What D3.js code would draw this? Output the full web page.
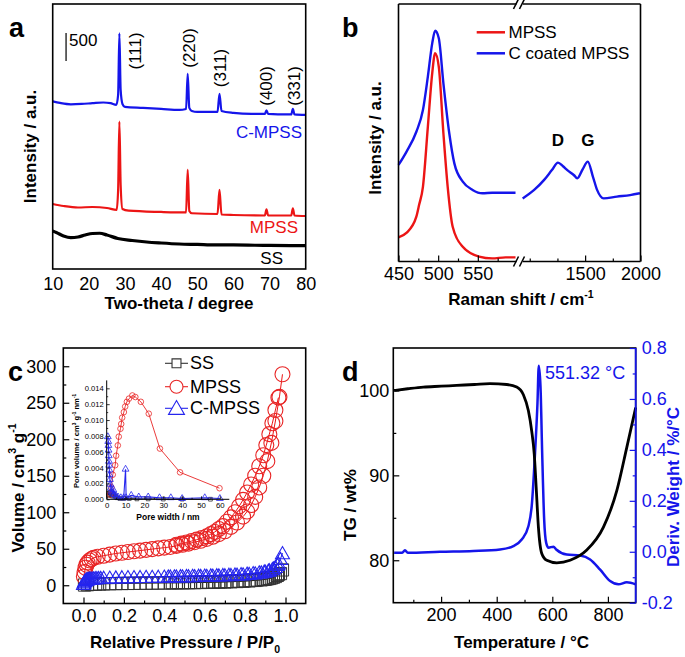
<!DOCTYPE html>
<html><head><meta charset="utf-8">
<script src="https://cdn.jsdelivr.net/npm/d3@7"></script>
<style>body{margin:0;background:#fff}svg{display:block}</style>
</head><body>
<svg id="chart" width="685" height="657"></svg>
<script>
// ---------------- DATA ----------------
// (a) XRD: [2theta, counts]
const xrdTicks = [10,20,30,40,50,60,70,80];
const xrdCMPSS = [[10,2991],[12,2964],[15,2940],[18,2946],[21,2960],[24,2972],[26,2960],[27.6,2929],[28.1,3107],[28.45,4205],[28.8,3196],[29.3,2946],[30,2893],[35,2875],[40,2857],[45,2839],[46.9,2857],[47.35,3482],[47.8,2875],[48.5,2821],[50,2804],[55.6,2804],[56.15,3125],[56.7,2821],[60,2786],[65,2768],[68.7,2768],[69.15,2830],[69.6,2768],[75,2759],[76,2759],[76.45,2857],[76.9,2759],[80,2750]];
const xrdMPSS = [[10,1161],[13,1125],[17,1098],[21,1107],[25,1089],[27.7,1054],[28.1,1411],[28.45,2630],[28.8,1500],[29.3,1071],[31,1041],[40,1018],[46.9,1009],[47.35,1768],[47.8,1036],[48.5,995],[55.6,982],[56.15,1411],[56.7,973],[60,964],[68.7,955],[69.15,1066],[69.6,955],[76,955],[76.45,1084],[76.9,955],[80,946]];
const xrdSS = [[10,679],[11,652],[13,589],[15,559],[17,571],[19,607],[21,634],[23,638],[25,607],[28,545],[32,509],[36,482],[40,464],[45,446],[50,438],[55,429],[60,429],[70,420],[80,416]];
const hklLabels = ["(111)","(220)","(311)","(400)","(331)"];
const hklTheta = [32.8,47.85,56.3,69.2,77.0];
const hklCounts = [3893,3946,3589,3268,3268];
const scaleBarCounts = 500;

// (b) Raman: [shift, intensity a.u.]
const ramanTicksLeft = [450,500,550];
const ramanTicksRight = [1500,2000];
const ramanMPSS = [[450,9.4],[460,11.1],[472.5,17.4],[476,22],[480.8,29.0],[487,52.3],[492.5,73.1],[496.2,80.9],[500.8,75.6],[506.6,49.8],[512,29.0],[518.3,13.5],[531,5.7],[551.6,1.9],[568,1.2],[585,1.6],[597.5,1.6]];
const ramanCMPSSLow = [[450,37.5],[460,42.6],[472.5,50.4],[480.8,58.8],[487,71.8],[492.5,84.7],[496.2,89.6],[500.8,86.7],[506.6,69.2],[514,49.8],[520.4,38.1],[531,31.0],[543.4,27.8],[555.8,26.5],[568,26.7],[585,26.7],[597.5,26.7]];
const ramanCMPSSHigh = [[936,24.5],[1040,27.8],[1130,31.7],[1200,35.5],[1255,38.4],[1300,37],[1339,35.5],[1400,33.5],[1429,32.3],[1480,36],[1524,38.8],[1570,33],[1608,27.8],[1667,24.5],[1787,25.2],[1906,25.8],[1995,26.5]];

// (c) N2 isotherms: [P/P0, V]
const isoTicks = [0.0,0.2,0.4,0.6,0.8,1.0];
const volTicks = [0,50,100,150,200,250,300];
const ssAds = [[0.005,0.3],[0.02,0.8],[0.04,1.2],[0.06,1.5],[0.08,1.7],[0.1,1.9],[0.13,2.1],[0.16,2.3],[0.19,2.4],[0.22,2.5],[0.25,2.6],[0.28,2.7],[0.31,2.8],[0.34,2.9],[0.37,3.0],[0.4,3.1],[0.43,3.2],[0.46,3.3],[0.49,3.4],[0.52,3.5],[0.55,3.6],[0.58,3.8],[0.61,3.9],[0.64,4.1],[0.67,4.3],[0.7,4.5],[0.73,4.8],[0.76,5.1],[0.79,5.5],[0.82,6],[0.85,6.6],[0.88,7.4],[0.9,8.2],[0.92,9.3],[0.94,11],[0.96,13.5],[0.975,16],[0.985,21]];
const ssDes = [[0.965,15],[0.95,12],[0.93,10],[0.91,8.8],[0.89,8],[0.86,7.2],[0.83,6.6],[0.8,6.1],[0.77,5.7],[0.74,5.3],[0.71,5],[0.68,4.7],[0.65,4.5],[0.62,4.3],[0.59,4.1],[0.56,3.9],[0.53,3.8],[0.5,3.7],[0.47,3.6],[0.44,3.5]];
const mpssAds = [[0.002,12],[0.005,18],[0.01,24],[0.015,28],[0.02,31],[0.03,34],[0.04,36],[0.05,37.5],[0.07,39],[0.1,40.5],[0.13,42],[0.16,43.5],[0.19,44.5],[0.22,45.5],[0.25,46.5],[0.28,47.5],[0.31,48.5],[0.34,49.5],[0.37,50.5],[0.4,51.5],[0.43,52.5],[0.46,54],[0.49,55.5],[0.52,57],[0.55,59],[0.58,61],[0.61,63.5],[0.64,66.5],[0.67,70],[0.7,74],[0.73,80],[0.76,86],[0.79,94],[0.81,101],[0.83,110],[0.85,121],[0.87,134],[0.89,150],[0.91,170],[0.93,195],[0.95,225],[0.97,258],[0.985,289]];
const mpssDes = [[0.965,257],[0.95,240],[0.935,222],[0.92,207],[0.905,192],[0.89,178],[0.87,163],[0.85,150],[0.83,138],[0.81,127],[0.79,117],[0.77,108],[0.75,100],[0.73,93],[0.71,87],[0.69,81],[0.67,77],[0.65,73],[0.63,70],[0.61,67],[0.585,64.5],[0.56,62.5],[0.535,60.5],[0.51,58.5],[0.485,57],[0.46,55.5]];
const cmpssAds = [[0.0,2],[0.003,4],[0.006,5.5],[0.009,6.5],[0.012,7.2],[0.016,7.8],[0.02,8.2],[0.025,8.6],[0.03,8.9],[0.036,9.1],[0.042,9.3],[0.05,9.5],[0.058,9.7],[0.066,9.8],[0.075,9.9],[0.085,10],[0.1,10.2],[0.13,10.5],[0.16,10.7],[0.19,10.9],[0.22,11.1],[0.25,11.2],[0.28,11.3],[0.31,11.4],[0.34,11.5],[0.37,11.6],[0.4,11.8],[0.43,11.9],[0.46,12],[0.49,12.2],[0.52,12.3],[0.55,12.5],[0.58,12.7],[0.61,12.9],[0.64,13.1],[0.67,13.4],[0.7,13.7],[0.73,14],[0.76,14.4],[0.79,14.9],[0.82,15.5],[0.85,16.3],[0.88,17.5],[0.9,18.7],[0.92,20.5],[0.94,23],[0.96,28],[0.975,36],[0.985,44]];
const cmpssDes = [[0.965,30],[0.95,25],[0.935,22],[0.915,20],[0.895,18.8],[0.87,17.6],[0.84,16.6],[0.81,15.8],[0.78,15.2],[0.75,14.7],[0.72,14.3],[0.69,14],[0.66,13.7],[0.63,13.4],[0.6,13.2],[0.57,13],[0.54,12.8],[0.51,12.6],[0.48,12.4],[0.45,12.2],[0.42,12]];
// (c) inset pore size distribution: [nm, cm3 g-1 nm-1]
const poreXTicks = [0,10,20,30,40,50,60];
const poreYTicks = [0,0.002,0.004,0.006,0.008,0.010,0.012,0.014];
const poreSS = [[0.9,0.0005],[1.2,0.0008],[1.6,0.0006],[2.0,0.0009],[2.5,0.0005],[3.0,0.0004],[3.8,0.0006],[4.6,0.0004],[5.5,0.0002],[7,0.0001],[9,0.0001],[12,0.0001],[16,0.00005],[22,0.00005],[30,0.00003],[40,0.00002],[55,0.00001]];
const poreMPSS = [[1.8,0.0006],[2.5,0.0015],[3.2,0.0031],[4.5,0.0043],[5.0,0.0055],[5.9,0.0068],[6.4,0.0079],[7.3,0.0089],[7.7,0.0095],[8.2,0.0103],[9.1,0.0110],[9.8,0.0117],[10.7,0.0123],[11.8,0.0127],[13.6,0.0131],[15.2,0.0129],[18.1,0.0123],[22.3,0.0108],[28.2,0.0064],[38.9,0.0034],[59.8,0.0014]];
const poreCMPSS = [[0.6,0.0079],[0.8,0.0073],[0.9,0.0068],[1.0,0.0062],[1.1,0.0055],[1.2,0.0048],[1.3,0.0043],[1.4,0.0037],[1.5,0.0031],[1.7,0.0025],[1.9,0.0019],[2.2,0.0014],[2.6,0.001],[3.0,0.0008],[3.5,0.0012],[4.0,0.0006],[5.0,0.0004],[6.0,0.0003],[7.5,0.0002],[9.0,0.0002],[10.0,0.0038],[10.3,0.0002],[13,0.0005],[17,0.0003],[22,0.0003],[28,0.0002],[34,0.0002],[40,0.0001],[52,0.0002],[60,0.0001]];

// (d) TGA: [T, wt%] and DTG: [T, %/°C]
const tempTicks = [200,400,600,800];
const tgTicks = [80,90,100];
const dtgTicks = [-0.2,0.0,0.2,0.4,0.6,0.8];
const tgData = [[31,100.0],[80,100.2],[136,100.4],[200,100.5],[256,100.6],[320,100.7],[376,100.8],[436,100.7],[472,100.4],[496,99.5],[514,97.6],[526,95.2],[535,92.5],[542,88.6],[550,83.9],[562,80.8],[580,80.0],[616,79.7],[664,80.0],[724,81.2],[784,83.9],[832,88.2],[868,93.3],[900,98.0]];
const dtgData = [[31,-0.004],[60,-0.004],[70,0.006],[80,-0.004],[196,0.0],[316,0.003],[412,0.009],[460,0.022],[490,0.048],[514,0.10],[526,0.18],[538,0.39],[546.7,0.585],[551.3,0.73],[557.5,0.65],[563.5,0.39],[570.7,0.127],[578,0.035],[586.4,0.016],[604,0.02],[614,0.009],[652,-0.011],[700,-0.015],[736,-0.03],[772,-0.07],[808,-0.115],[838,-0.128],[868,-0.12],[900,-0.128]];
const dtgPeakLabel = "551.32 °C";

// ---------------- DRAW ----------------
const F = '"Liberation Sans", Arial, Helvetica, sans-serif';
const BLUE = '#1515ea', RED = '#ec1515', BLACK = '#000';
const TICKFS = 17, TITLEFS = 17;
const svg = d3.select('#chart');

function text(g, x, y, s, size, o = {}) {
  const t = g.append('text').attr('x', x).attr('y', y).attr('font-size', size)
    .attr('font-family', F).attr('fill', o.fill || '#000')
    .attr('font-weight', o.bold ? 'bold' : 'normal')
    .attr('text-anchor', o.anchor || 'start');
  if (o.rotate) t.attr('transform', `rotate(-90,${x},${y})`);
  if (o.baseline) t.attr('dominant-baseline', o.baseline);
  if (Array.isArray(s)) {
    let shift = 0;
    s.forEach(([str, k]) => {
      const target = k === 'sup' ? -0.42 * size : k === 'sub' ? 0.28 * size : 0;
      const ts = t.append('tspan').attr('dy', target - shift).text(str);
      if (k) ts.attr('font-size', size * 0.62);
      shift = target;
    });
  } else t.text(s);
  return t;
}

function axis(g, orient, scale, pos, major, minor, o = {}) {
  const A = {bottom: d3.axisBottom, left: d3.axisLeft, right: d3.axisRight, top: d3.axisTop}[orient];
  const tr = (orient === 'bottom' || orient === 'top') ? `translate(0,${pos})` : `translate(${pos},0)`;
  const color = o.color || '#000';
  if (minor && minor.length) {
    const m = g.append('g').attr('transform', tr)
      .call(A(scale).tickValues(minor).tickSize(-(o.minorLen ?? 3)).tickFormat(''));
    m.select('.domain').remove();
    m.selectAll('line').attr('stroke', color).attr('stroke-width', o.tw || 1.2);
  }
  const a = g.append('g').attr('transform', tr)
    .call(A(scale).tickValues(major).tickSize(-(o.majorLen ?? 6)).tickPadding(o.pad ?? 6)
      .tickFormat(o.fmt || (d => d)));
  a.select('.domain').remove();
  a.selectAll('line').attr('stroke', color).attr('stroke-width', o.tw || 1.2);
  a.selectAll('text').attr('font-family', F).attr('font-size', o.fs || TICKFS).attr('fill', color);
  return a;
}

function frame(g, x0, y0, x1, y1) {
  g.append('rect').attr('x', x0).attr('y', y0).attr('width', x1 - x0).attr('height', y1 - y0)
    .attr('fill', 'none').attr('stroke', '#000').attr('stroke-width', 1.6);
}

// ===== Panel a =====
{
  const g = svg.append('g');
  const x = d3.scaleLinear([10, 80], [52.7, 305.7]);
  const y = d3.scaleLinear([0, 4730], [269, 4]);
  const line = d3.line().x(d => x(d[0])).y(d => y(d[1])).curve(d3.curveMonotoneX);
  g.append('path').datum(xrdSS).attr('d', line).attr('fill', 'none').attr('stroke', BLACK).attr('stroke-width', 3.2);
  g.append('path').datum(xrdMPSS).attr('d', line).attr('fill', 'none').attr('stroke', RED).attr('stroke-width', 2.2);
  g.append('path').datum(xrdCMPSS).attr('d', line).attr('fill', 'none').attr('stroke', BLUE).attr('stroke-width', 2.2);
  frame(g, 52.7, 4, 305.7, 269);
  axis(g, 'bottom', x, 269, xrdTicks, [], {majorLen: 0, pad: 8, fs: 18});
  hklLabels.forEach((s, i) => text(g, x(hklTheta[i]), y(hklCounts[i]), s, 17, {anchor: 'middle', rotate: true, baseline: 'central'}));
  // scale bar
  const sb0 = 3714;
  g.append('line').attr('x1', x(13.7)).attr('x2', x(13.7)).attr('y1', y(sb0)).attr('y2', y(sb0 + scaleBarCounts))
    .attr('stroke', '#333').attr('stroke-width', 1.5);
  text(g, x(13.7) + 3, y(sb0 + scaleBarCounts) + 13, String(scaleBarCounts), 17);
  text(g, 302, 138, 'C-MPSS', 17, {anchor: 'end', fill: BLUE});
  text(g, 298, 233, 'MPSS', 17, {anchor: 'end', fill: RED});
  text(g, 283, 264, 'SS', 17, {anchor: 'end'});
  text(g, 35.5, 146.5, 'Intensity / a.u.', TITLEFS, {anchor: 'middle', rotate: true, bold: true});
  text(g, 179, 309, 'Two-theta / degree', TITLEFS, {anchor: 'middle', bold: true});
  text(g, 9, 37, 'a', 27, {bold: true});
}

// ===== Panel b =====
{
  const g = svg.append('g');
  const L = 398.5, R = 640.5, T = 4, B = 261.5, br0 = 517.5, br1 = 522;
  const x1 = d3.scaleLinear([450, 600], [L, br0]);
  const x2 = d3.scaleLinear([930, 2000], [br1, R]);
  const y = d3.scaleLinear([0, 100], [B, T]);
  const l1 = d3.line().x(d => x1(d[0])).y(d => y(d[1])).curve(d3.curveMonotoneX);
  const l2 = d3.line().x(d => x2(d[0])).y(d => y(d[1])).curve(d3.curveMonotoneX);
  g.append('path').datum(ramanCMPSSLow).attr('d', l1).attr('fill', 'none').attr('stroke', BLUE).attr('stroke-width', 2.4);
  g.append('path').datum(ramanCMPSSHigh).attr('d', l2).attr('fill', 'none').attr('stroke', BLUE).attr('stroke-width', 2.4);
  g.append('path').datum(ramanMPSS).attr('d', l1).attr('fill', 'none').attr('stroke', RED).attr('stroke-width', 2.4);
  // frame with break
  const seg = (a, b, c, d) => g.append('line').attr('x1', a).attr('y1', b).attr('x2', c).attr('y2', d).attr('stroke', '#000').attr('stroke-width', 1.6);
  seg(L, T, L, B); seg(R, T, R, B);
  seg(L, B, br0 - 1, B); seg(br1 + 1, B, R, B);
  seg(L, T, br0 - 1, T); seg(br1 + 1, T, R, T);
  [br0 - 1.5, br1].forEach(bx => { seg(bx - 2.5, B + 5, bx + 2.5, B - 5); seg(bx - 2.5, T + 5, bx + 2.5, T - 5); });
  axis(g, 'bottom', x1, B, ramanTicksLeft, [475, 525, 575], {pad: 6, fs: 18});
  axis(g, 'bottom', x2, B, ramanTicksRight, [1000, 1250, 1750], {pad: 6, fs: 18});
  // legend
  g.append('line').attr('x1', 476.7).attr('x2', 505).attr('y1', 32.3).attr('y2', 32.3).attr('stroke', RED).attr('stroke-width', 2.5);
  g.append('line').attr('x1', 476.7).attr('x2', 505).attr('y1', 53.3).attr('y2', 53.3).attr('stroke', BLUE).attr('stroke-width', 2.5);
  text(g, 508.5, 32.3, 'MPSS', 17, {baseline: 'central'});
  text(g, 508.5, 53.3, 'C coated MPSS', 17, {baseline: 'central'});
  text(g, x2(1255), 140, 'D', 17, {bold: true, anchor: 'middle', baseline: 'central'});
  text(g, x2(1524), 140, 'G', 17, {bold: true, anchor: 'middle', baseline: 'central'});
  text(g, 381, 138, 'Intensity / a.u.', TITLEFS, {anchor: 'middle', rotate: true, bold: true});
  text(g, 521, 305, [['Raman shift / cm'], ['-1', 'sup']], TITLEFS, {anchor: 'middle', bold: true});
  text(g, 342, 37, 'b', 27, {bold: true});
}

// ===== Panel c =====
{
  const g = svg.append('g');
  const L = 63.3, R = 305.7, T = 348, B = 603.5;
  const x = d3.scaleLinear([-0.1, 1.1], [L, R]);
  const y = d3.scaleLinear([-25, 325], [B, T]);
  const line = d3.line().x(d => x(d[0])).y(d => y(d[1]));
  const sq = d3.symbol(d3.symbolSquare, 150);
  const tri = d3.symbol(d3.symbolTriangle, 85);
  // SS
  [ssAds, ssDes].forEach(s => g.append('path').datum(s).attr('d', line).attr('fill', 'none').attr('stroke', '#222').attr('stroke-width', 1));
  g.selectAll(null).data(ssAds.concat(ssDes)).join('path').attr('d', sq)
    .attr('transform', d => `translate(${x(d[0])},${y(d[1])})`).attr('fill', 'none').attr('stroke', '#333').attr('stroke-width', 1);
  // MPSS
  [mpssAds, mpssDes].forEach(s => g.append('path').datum(s).attr('d', line).attr('fill', 'none').attr('stroke', RED).attr('stroke-width', 1));
  g.selectAll(null).data(mpssAds.concat(mpssDes)).join('circle').attr('cx', d => x(d[0])).attr('cy', d => y(d[1])).attr('r', 7.5)
    .attr('fill', 'none').attr('stroke', '#e82525').attr('stroke-width', 1.1);
  // C-MPSS
  [cmpssAds, cmpssDes].forEach(s => g.append('path').datum(s).attr('d', line).attr('fill', 'none').attr('stroke', BLUE).attr('stroke-width', 1));
  g.selectAll(null).data(cmpssAds.concat(cmpssDes)).join('path').attr('d', tri)
    .attr('transform', d => `translate(${x(d[0])},${y(d[1]) + 1.5})`).attr('fill', 'none').attr('stroke', '#2525ee').attr('stroke-width', 1.1);
  frame(g, L, T, R, B);
  axis(g, 'bottom', x, B, isoTicks, [0.1, 0.3, 0.5, 0.7, 0.9], {pad: 6, fmt: d => d.toFixed(1), fs: 18});
  axis(g, 'left', y, L, volTicks, [25, 75, 125, 175, 225, 275], {pad: 7, fs: 18});
  // legend
  const leg = [['SS', '#333', 'sq'], ['MPSS', '#e82525', 'ci'], ['C-MPSS', '#2525ee', 'tr']];
  const ly = [363.3, 386.7, 408.3];
  leg.forEach(([name, col, m], i) => {
    g.append('line').attr('x1', 165).attr('x2', 188).attr('y1', ly[i]).attr('y2', ly[i]).attr('stroke', col).attr('stroke-width', 1.1);
    if (m === 'sq') g.append('path').attr('d', d3.symbol(d3.symbolSquare, 80)()).attr('transform', `translate(176.5,${ly[i]})`).attr('fill', '#fff').attr('stroke', col).attr('stroke-width', 1.1);
    if (m === 'ci') g.append('circle').attr('cx', 176.5).attr('cy', ly[i]).attr('r', 6.5).attr('fill', '#fff').attr('stroke', col).attr('stroke-width', 1.1);
    if (m === 'tr') g.append('path').attr('d', d3.symbol(d3.symbolTriangle, 110)()).attr('transform', `translate(176.5,${ly[i] + 1.5})`).attr('fill', '#fff').attr('stroke', col).attr('stroke-width', 1.1);
    text(g, 190, ly[i], name, 18, {baseline: 'central'});
  });
  // inset
  const iL = 106.7, iR = 229.3, iB = 499.3;
  const ix = d3.scaleLinear([0, 65], [iL, iR]);
  const iy = d3.scaleLinear([0, 0.015], [iB, 380.4]);
  const il = d3.line().x(d => ix(d[0])).y(d => iy(d[1]));
  g.append('path').datum(poreSS).attr('d', il).attr('fill', 'none').attr('stroke', '#222').attr('stroke-width', 1);
  g.selectAll(null).data(poreSS).join('path').attr('d', d3.symbol(d3.symbolSquare, 14)).attr('transform', d => `translate(${ix(d[0])},${iy(d[1])})`).attr('fill', 'none').attr('stroke', '#333').attr('stroke-width', 0.8);
  g.append('path').datum(poreMPSS).attr('d', il).attr('fill', 'none').attr('stroke', '#e82525').attr('stroke-width', 0.9);
  g.selectAll(null).data(poreMPSS).join('circle').attr('cx', d => ix(d[0])).attr('cy', d => iy(d[1])).attr('r', 2.8).attr('fill', 'none').attr('stroke', '#e82525').attr('stroke-width', 0.8);
  g.append('path').datum(poreCMPSS).attr('d', il).attr('fill', 'none').attr('stroke', '#2525ee').attr('stroke-width', 1.1);
  g.selectAll(null).data(poreCMPSS).join('path').attr('d', d3.symbol(d3.symbolTriangle, 20)).attr('transform', d => `translate(${ix(d[0])},${iy(d[1])})`).attr('fill', 'none').attr('stroke', '#2525ee').attr('stroke-width', 0.8);
  g.append('line').attr('x1', iL).attr('x2', iL).attr('y1', 380.4).attr('y2', iB).attr('stroke', '#000').attr('stroke-width', 1);
  g.append('line').attr('x1', iL).attr('x2', iR).attr('y1', iB).attr('y2', iB).attr('stroke', '#000').attr('stroke-width', 1);
  axis(g, 'bottom', ix, iB, poreXTicks, [5, 15, 25, 35, 45, 55], {pad: 3, fs: 7.8, majorLen: 3, minorLen: 1.5, tw: 0.8});
  axis(g, 'left', iy, iL, poreYTicks, [0.001, 0.003, 0.005, 0.007, 0.009, 0.011, 0.013], {pad: 3, fs: 7.6, majorLen: 3, minorLen: 1.5, tw: 0.8, fmt: d => d.toFixed(3)});
  text(g, 168, 519.5, 'Pore width / nm', 8.5, {anchor: 'middle', bold: true});
  text(g, 79, 441, [['Pore volume / cm'], ['3', 'sup'], [' g'], ['-1', 'sup'], [' nm'], ['-1', 'sup']], 7.6, {anchor: 'middle', rotate: true, bold: true});
  text(g, 23.5, 488, [['Volume / cm'], ['3', 'sup'], [' g'], ['-1', 'sup']], TITLEFS, {anchor: 'middle', rotate: true, bold: true});
  text(g, 185, 648, [['Relative Pressure / P/P'], ['0', 'sub']], TITLEFS, {anchor: 'middle', bold: true});
  text(g, 8, 381, 'c', 27, {bold: true});
}

// ===== Panel d =====
{
  const g = svg.append('g');
  const L = 393.3, R = 635.7, T = 348, B = 602.7;
  const x = d3.scaleLinear([28, 900], [L, R]);
  const yl = d3.scaleLinear([75, 105], [B, T]);
  const yr = d3.scaleLinear([-0.2, 0.8], [B, T]);
  g.append('path').datum(dtgData).attr('d', d3.line().x(d => x(d[0])).y(d => yr(d[1])).curve(d3.curveMonotoneX))
    .attr('fill', 'none').attr('stroke', BLUE).attr('stroke-width', 2.5);
  g.append('path').datum(tgData).attr('d', d3.line().x(d => x(d[0])).y(d => yl(d[1])).curve(d3.curveMonotoneX))
    .attr('fill', 'none').attr('stroke', BLACK).attr('stroke-width', 2.8);
  frame(g, L, T, R, B);
  g.append('line').attr('x1', R).attr('x2', R).attr('y1', T).attr('y2', B).attr('stroke', BLUE).attr('stroke-width', 1.8);
  axis(g, 'bottom', x, B, tempTicks, [100, 300, 500, 700], {pad: 6, fs: 18});
  axis(g, 'left', yl, L, tgTicks, [85, 95], {pad: 4, fs: 18});
  axis(g, 'right', yr, R, dtgTicks, [-0.1, 0.1, 0.3, 0.5, 0.7], {pad: 6, fs: 18, color: BLUE, fmt: d => d.toFixed(1)});
  text(g, 545, 373.3, dtgPeakLabel, 18, {fill: BLUE, baseline: 'central'});
  text(g, 356, 505, 'TG / wt%', TITLEFS, {anchor: 'middle', rotate: true, bold: true});
  text(g, 679, 487, 'Deriv. Weight / %/°C', TITLEFS, {anchor: 'middle', rotate: true, bold: true, fill: BLUE});
  text(g, 521.5, 648, 'Temperature / °C', TITLEFS, {anchor: 'middle', bold: true});
  text(g, 342, 381, 'd', 27, {bold: true});
}
</script>
</body></html>
